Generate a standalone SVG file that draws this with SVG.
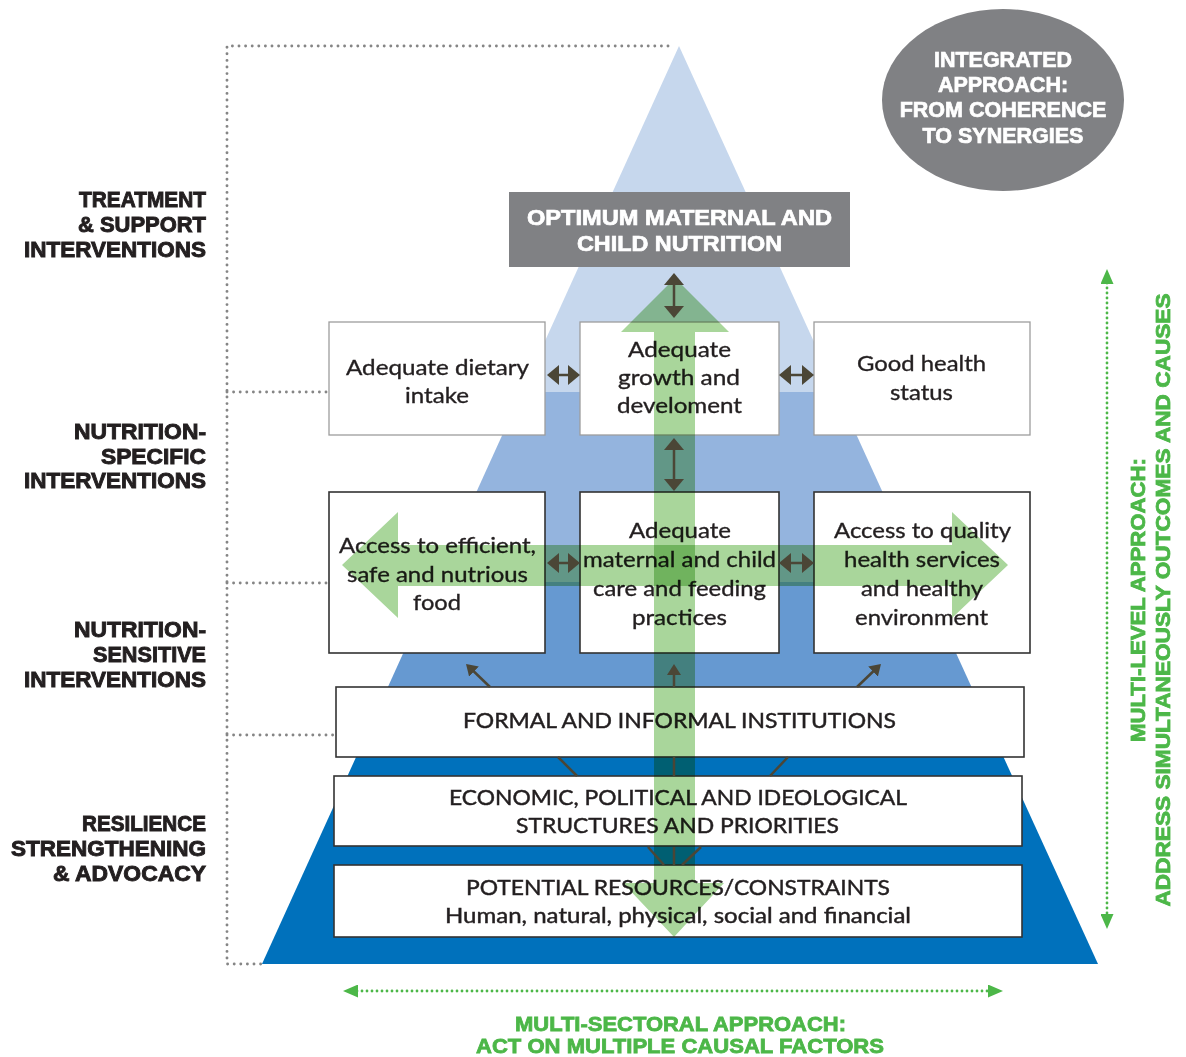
<svg xmlns="http://www.w3.org/2000/svg" width="1186" height="1057" viewBox="0 0 1186 1057">
<style>
.lbl{font-family:"Liberation Sans",Arial,sans-serif;font-weight:bold;font-size:21.5px;fill:#231f20;stroke:#231f20;stroke-width:0.9px;text-anchor:end}
.hd{font-family:"Liberation Sans",Arial,sans-serif;font-weight:bold;font-size:21.5px;fill:#ffffff;stroke:#ffffff;stroke-width:0.7px;text-anchor:middle}
.body{font-family:Lato,"Liberation Sans",sans-serif;font-size:21.5px;fill:#231f20;stroke:#231f20;stroke-width:0.35px;text-anchor:middle}
.caps{font-family:Lato,"Liberation Sans",sans-serif;font-size:21px;fill:#231f20;stroke:#231f20;stroke-width:0.45px;text-anchor:middle}
.grn{font-family:"Liberation Sans",Arial,sans-serif;font-weight:bold;font-size:21px;fill:#4cb748;stroke:#4cb748;stroke-width:0.8px;text-anchor:middle}
.box1{fill:#ffffff;stroke:#9d9d9d;stroke-width:1.3}
.box2{fill:#ffffff;stroke:#333333;stroke-width:1.6}
.dot{fill:none;stroke:#858585;stroke-width:2.9;stroke-dasharray:0 6.6;stroke-linecap:round}
.dk{fill:none;stroke:#4b4636;stroke-width:2.5}
.gdot{fill:none;stroke:#4cb748;stroke-width:2.8;stroke-dasharray:0 5;stroke-linecap:round}
.garrow{fill:#a9d69b;mix-blend-mode:multiply}
</style>
<defs>
<marker id="ah" viewBox="0 0 12 20" refX="3" refY="10" markerWidth="12" markerHeight="20" markerUnits="userSpaceOnUse" orient="auto-start-reverse"><path d="M0,0L12,10L0,20z" fill="#4b4636"/></marker>
<marker id="ah2" viewBox="0 0 11 14" refX="3" refY="7" markerWidth="11" markerHeight="14" markerUnits="userSpaceOnUse" orient="auto"><path d="M0,0L11,7L0,14z" fill="#4b4636"/></marker>
<marker id="gah" viewBox="0 0 15 13" refX="1" refY="6.5" markerWidth="15" markerHeight="13" markerUnits="userSpaceOnUse" orient="auto-start-reverse"><path d="M0,0L15,6.5L0,13z" fill="#4cb748"/></marker>
</defs>

<g id="pyramid">
<polygon points="679,46 836.9,392 521.8,392" fill="#c6d7ed"/>
<polygon points="521.8,392 836.9,392 923.6,582 435.5,582" fill="#94b4de"/>
<polygon points="435.5,582 923.6,582 987.5,722 372,722" fill="#6699d1"/>
<polygon points="372,722 987.5,722 1098,964 262,964" fill="#0071bc"/>
</g>

<g id="bracket">
<path class="dot" d="M668,46H227V964H262"/>
<path class="dot" d="M227,392H329"/>
<path class="dot" d="M227,583H329"/>
<path class="dot" d="M227,735H336"/>
</g>

<g id="labels">
<text class="lbl" x="206" y="207" textLength="127" lengthAdjust="spacingAndGlyphs">TREATMENT</text>
<text class="lbl" x="206" y="232" textLength="128" lengthAdjust="spacingAndGlyphs">&amp; SUPPORT</text>
<text class="lbl" x="206" y="257" textLength="182" lengthAdjust="spacingAndGlyphs">INTERVENTIONS</text>
<text class="lbl" x="206" y="439" textLength="132" lengthAdjust="spacingAndGlyphs">NUTRITION-</text>
<text class="lbl" x="206" y="464" textLength="105" lengthAdjust="spacingAndGlyphs">SPECIFIC</text>
<text class="lbl" x="206" y="488" textLength="182" lengthAdjust="spacingAndGlyphs">INTERVENTIONS</text>
<text class="lbl" x="206" y="637" textLength="132" lengthAdjust="spacingAndGlyphs">NUTRITION-</text>
<text class="lbl" x="206" y="662" textLength="113" lengthAdjust="spacingAndGlyphs">SENSITIVE</text>
<text class="lbl" x="206" y="687" textLength="182" lengthAdjust="spacingAndGlyphs">INTERVENTIONS</text>
<text class="lbl" x="206" y="831" textLength="124" lengthAdjust="spacingAndGlyphs">RESILIENCE</text>
<text class="lbl" x="206" y="856" textLength="195" lengthAdjust="spacingAndGlyphs">STRENGTHENING</text>
<text class="lbl" x="206" y="881" textLength="153" lengthAdjust="spacingAndGlyphs">&amp; ADVOCACY</text>
</g>

<g id="integrated">
<ellipse cx="1003" cy="100" rx="121" ry="91" fill="#808184"/>
<text class="hd" x="1003" y="67" font-size="22">INTEGRATED</text>
<text class="hd" x="1003" y="92" font-size="22">APPROACH:</text>
<text class="hd" x="1003" y="117" font-size="22">FROM COHERENCE</text>
<text class="hd" x="1003" y="143" font-size="22">TO SYNERGIES</text>
</g>

<g id="optimum">
<rect x="509" y="192" width="341" height="75" fill="#808184"/>
<text class="hd" x="679.5" y="225" textLength="305" lengthAdjust="spacingAndGlyphs">OPTIMUM MATERNAL AND</text>
<text class="hd" x="679.5" y="251" textLength="205" lengthAdjust="spacingAndGlyphs">CHILD NUTRITION</text>
</g>

<g id="dietary">
<rect class="box1" x="329" y="322" width="216" height="113"/>
<text class="body" x="437.5" y="375" textLength="183" lengthAdjust="spacingAndGlyphs">Adequate dietary</text>
<text class="body" x="437" y="403" textLength="64" lengthAdjust="spacingAndGlyphs">intake</text>
</g>
<g id="growth">
<rect class="box1" x="580" y="322" width="199" height="113"/>
<text class="body" x="679.5" y="357" textLength="103" lengthAdjust="spacingAndGlyphs">Adequate</text>
<text class="body" x="679" y="385" textLength="122" lengthAdjust="spacingAndGlyphs">growth and</text>
<text class="body" x="679.5" y="413" textLength="125" lengthAdjust="spacingAndGlyphs">develoment</text>
</g>
<g id="health">
<rect class="box1" x="814" y="322" width="216" height="113"/>
<text class="body" x="921.5" y="371" textLength="129" lengthAdjust="spacingAndGlyphs">Good health</text>
<text class="body" x="921.5" y="400" textLength="63" lengthAdjust="spacingAndGlyphs">status</text>
</g>

<g id="food">
<rect class="box2" x="329" y="492" width="216" height="161"/>
<text class="body" x="437.5" y="553" textLength="197" lengthAdjust="spacingAndGlyphs">Access to efficient,</text>
<text class="body" x="437.5" y="582" textLength="181" lengthAdjust="spacingAndGlyphs">safe and nutrious</text>
<text class="body" x="437" y="610" textLength="48" lengthAdjust="spacingAndGlyphs">food</text>
</g>
<g id="care">
<rect class="box2" x="580" y="492" width="199" height="161"/>
<text class="body" x="680" y="538" textLength="102" lengthAdjust="spacingAndGlyphs">Adequate</text>
<text class="body" x="679.5" y="567" textLength="193" lengthAdjust="spacingAndGlyphs">maternal and child</text>
<text class="body" x="679.5" y="596" textLength="173" lengthAdjust="spacingAndGlyphs">care and feeding</text>
<text class="body" x="679.5" y="625" textLength="95" lengthAdjust="spacingAndGlyphs">practices</text>
</g>
<g id="services">
<rect class="box2" x="814" y="492" width="216" height="161"/>
<text class="body" x="922.5" y="538" textLength="177" lengthAdjust="spacingAndGlyphs">Access to quality</text>
<text class="body" x="922" y="567" textLength="156" lengthAdjust="spacingAndGlyphs">health services</text>
<text class="body" x="922" y="596" textLength="122" lengthAdjust="spacingAndGlyphs">and healthy</text>
<text class="body" x="921.5" y="625" textLength="133" lengthAdjust="spacingAndGlyphs">environment</text>
</g>

<g id="institutions">
<rect class="box2" x="336" y="687" width="688" height="70"/>
<text class="caps" x="679.5" y="728" textLength="433" lengthAdjust="spacingAndGlyphs">FORMAL AND INFORMAL INSTITUTIONS</text>
</g>
<g id="structures">
<rect class="box2" x="334" y="776" width="688" height="70"/>
<text class="caps" x="678" y="805" textLength="458" lengthAdjust="spacingAndGlyphs">ECONOMIC, POLITICAL AND IDEOLOGICAL</text>
<text class="caps" x="677.5" y="833" textLength="323" lengthAdjust="spacingAndGlyphs">STRUCTURES AND PRIORITIES</text>
</g>
<g id="resources">
<rect class="box2" x="334" y="865" width="688" height="72"/>
<text class="caps" x="678" y="895" textLength="424" lengthAdjust="spacingAndGlyphs">POTENTIAL RESOURCES/CONSTRAINTS</text>
<text class="caps" x="678" y="923" textLength="466" lengthAdjust="spacingAndGlyphs">Human, natural, physical, social and financial</text>
</g>

<g id="green-arrows">
<polygon class="garrow" points="675,278 729,332 695,332 695,883 724,883 674,937 623,883 654,883 654,332 621,332"/>
<polygon class="garrow" points="342,565 398,512 398,545 952,545 952,512 1008,565 952,618 952,586 398,586 398,618"/>
</g>

<g id="connectors">
<line class="dk" x1="674" y1="282" x2="674" y2="309" marker-start="url(#ah)" marker-end="url(#ah)"/>
<line class="dk" x1="674" y1="447" x2="674" y2="482" marker-start="url(#ah)" marker-end="url(#ah)"/>
<line class="dk" x1="556" y1="375" x2="571" y2="375" marker-start="url(#ah)" marker-end="url(#ah)"/>
<line class="dk" x1="788" y1="375" x2="805" y2="375" marker-start="url(#ah)" marker-end="url(#ah)"/>
<line class="dk" x1="556" y1="563" x2="571" y2="563" marker-start="url(#ah)" marker-end="url(#ah)"/>
<line class="dk" x1="788" y1="563" x2="805" y2="563" marker-start="url(#ah)" marker-end="url(#ah)"/>
<line class="dk" x1="490" y1="687" x2="471.8" y2="669.5" marker-end="url(#ah2)"/>
<line class="dk" x1="674" y1="687" x2="674" y2="672" marker-end="url(#ah2)"/>
<line class="dk" x1="857" y1="687" x2="875.2" y2="669.5" marker-end="url(#ah2)"/>
<line class="dk" x1="558" y1="757" x2="577" y2="776"/>
<line class="dk" x1="674" y1="757" x2="674" y2="776"/>
<line class="dk" x1="788" y1="757" x2="770" y2="776"/>
<line class="dk" x1="648" y1="847" x2="664" y2="865"/>
<line class="dk" x1="674" y1="847" x2="674" y2="865"/>
<line class="dk" x1="701" y1="847" x2="682" y2="865"/>
<line class="gdot" x1="1107" y1="283" x2="1107" y2="915" marker-start="url(#gah)" marker-end="url(#gah)"/>
<line class="gdot" x1="357" y1="991" x2="989" y2="991" marker-start="url(#gah)" marker-end="url(#gah)"/>
</g>

<g id="approach-labels">
<text class="grn" transform="translate(1145,600) rotate(-90)" textLength="284" lengthAdjust="spacingAndGlyphs">MULTI-LEVEL APPROACH:</text>
<text class="grn" transform="translate(1170,600) rotate(-90)" textLength="613" lengthAdjust="spacingAndGlyphs">ADDRESS SIMULTANEOUSLY OUTCOMES AND CAUSES</text>
<text class="grn" x="680.5" y="1031" textLength="331" lengthAdjust="spacingAndGlyphs">MULTI-SECTORAL APPROACH:</text>
<text class="grn" x="680" y="1053" textLength="408" lengthAdjust="spacingAndGlyphs">ACT ON MULTIPLE CAUSAL FACTORS</text>
</g>
</svg>
